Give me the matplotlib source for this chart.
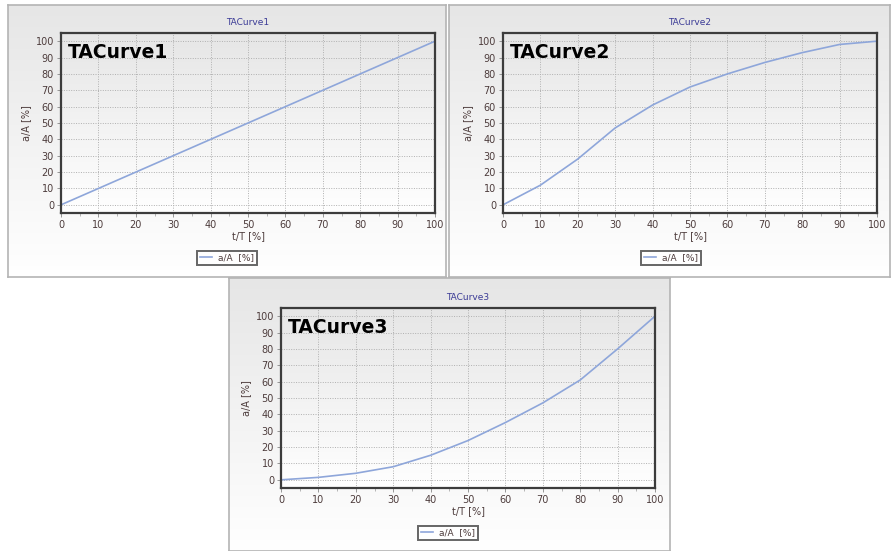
import matplotlib
matplotlib.use("Agg")
import matplotlib.pyplot as plt
import numpy as np

# data
t_pct = [0, 10, 20, 30, 40, 50, 60, 70, 80, 90, 100]
curve1 = [0, 10, 20, 30, 40, 50, 60, 70, 80, 90, 100]
curve2 = [0, 12, 28, 47, 61, 72, 80, 87, 93, 98, 100]
curve3 = [0, 1.5, 4, 8, 15, 24, 35, 47, 61, 80, 100]
names = ["TACurve1", "TACurve2", "TACurve3"]
x_label = "t/T [%]"
y_label = "a/A [%]"
legend_label = "a/A  [%]"

W, H = 892, 551
LINE = "#8ea6da"
TICK_COL = "#4d3c3c"
TITLE_COL = "#3b3b96"

# (panel box, plot box, legend centre) in pixels, y measured from the top
layout = [
    ((8, 5, 446, 277), (61, 33, 435, 213), (227, 258)),
    ((449, 5, 890, 277), (503, 33, 877, 213), (671, 258)),
    ((229, 278, 670, 551), (281, 308, 655, 488), (448, 533)),
]


def frac(box):
    x0, y0, x1, y1 = box
    return [x0 / W, 1 - y1 / H, (x1 - x0) / W, (y1 - y0) / H]


def gradient(ax, top, bottom):
    g = np.linspace(0, 1, 256).reshape(-1, 1)
    c0 = np.array(matplotlib.colors.to_rgb(top))
    c1 = np.array(matplotlib.colors.to_rgb(bottom))
    img = c0[None, None, :] * (1 - g[..., None]) + c1[None, None, :] * g[..., None]
    ax.imshow(img, extent=(0, 1, 0, 1), transform=ax.transAxes,
              aspect="auto", zorder=-10, interpolation="bilinear")


fig = plt.figure(figsize=(W / 100, H / 100), dpi=100)
fig.patch.set_facecolor("white")

for name, ys, (pbox, abox, leg) in zip(names, [curve1, curve2, curve3], layout):
    # panel background
    bg = fig.add_axes(frac(pbox))
    gradient(bg, "#e6e6e6", "#ffffff")
    bg.set_xlim(0, 1)
    bg.set_ylim(0, 1)
    bg.set_xticks([])
    bg.set_yticks([])
    for s in bg.spines.values():
        s.set_color("#b4b4b4")
        s.set_linewidth(1.2)

    ax = fig.add_axes(frac(abox))
    gradient(ax, "#e6e6e6", "#ffffff")
    ax.plot(t_pct, ys, color=LINE, linewidth=1.2, label=legend_label)
    ax.set_xlim(0, 100)
    ax.set_ylim(-5, 105)
    ax.set_xticks(range(0, 101, 10))
    ax.set_yticks(range(0, 101, 10))
    ax.set_xticks(range(0, 101, 5), minor=True)
    ax.grid(True, which="major", color="#b0b0b0", linestyle=(0, (1, 1.5)),
            linewidth=0.7)
    ax.tick_params(which="major", length=3, width=0.6, color="#888888",
                   labelsize=7, labelcolor=TICK_COL, pad=2)
    ax.tick_params(which="minor", length=2, width=0.5, color="#999999")
    for s in ax.spines.values():
        s.set_color("#3c3c3c")
        s.set_linewidth(1.6)

    ax.set_title(name, fontsize=6.5, color=TITLE_COL, pad=6)
    ax.set_xlabel(x_label, fontsize=7, color=TICK_COL, labelpad=1)
    ax.set_ylabel(y_label, fontsize=7, color=TICK_COL, labelpad=3)
    ax.text(0.019, 0.894, name, transform=ax.transAxes, fontsize=13.5,
            fontweight="bold", color="black", va="center", ha="left")

    lg = ax.legend(loc="center", bbox_to_anchor=(leg[0] / W, 1 - leg[1] / H),
                   bbox_transform=fig.transFigure, fontsize=6.5, frameon=True,
                   fancybox=False, handlelength=1.4, borderpad=0.3,
                   handletextpad=0.7, labelcolor=TICK_COL)
    lg.get_frame().set_edgecolor("#404040")
    lg.get_frame().set_linewidth(1.4)
    lg.get_frame().set_facecolor("white")

plt.savefig("out.png", dpi=100, facecolor="white")
